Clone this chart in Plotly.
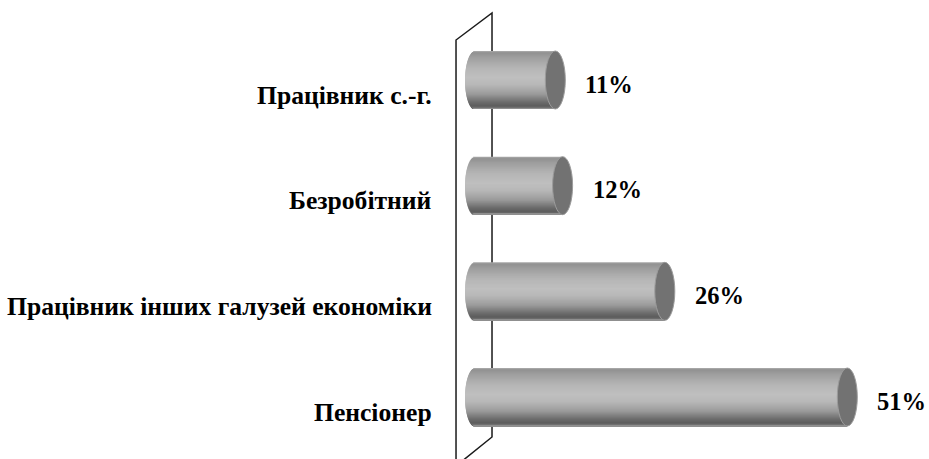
import numpy as np
import plotly.graph_objects as go

# Survey shares by occupation of household head
categories = ["Працівник с.-г.", "Безробітний", "Працівник інших галузей економіки", "Пенсіонер"]
values = [11, 12, 26, 51]
value_labels = ["11%", "12%", "26%", "51%"]

# --- geometry of the pseudo-3D cylinders (in axis units) ---
PX_PER_UNIT = 7.3            # horizontal pixels per percent
ROW_PX = 105.67              # vertical pixels per category row
ZERO_PX = 475                # pixel position of the value axis origin
FIRST_ROW_PX = 80            # pixel position of the first row centre
W, H = 929, 459

BAR_H = 58 / ROW_PX          # cylinder diameter in row units
CAP_A = 10 / PX_PER_UNIT     # half-width of the end ellipse in value units
N_STRIPES = 58

x_range = [-ZERO_PX / PX_PER_UNIT, (W - ZERO_PX) / PX_PER_UNIT]
y_range = [(H - FIRST_ROW_PX) / ROW_PX, -FIRST_ROW_PX / ROW_PX]

# vertical shading profile of the cylinder surface: (position top->bottom, grey level)
shade_stops = [(0.0, 175), (0.03, 145), (0.12, 160), (0.3, 182), (0.45, 191),
               (0.58, 184), (0.74, 155), (0.88, 108), (0.95, 92), (0.985, 120), (1.0, 175)]
sp = np.array([s[0] for s in shade_stops])
sg = np.array([s[1] for s in shade_stops])

rows = np.arange(len(categories))
fig = go.Figure()

dh = BAR_H / N_STRIPES
for k in range(N_STRIPES):
    f = (k + 0.5) / N_STRIPES              # 0 = top edge, 1 = bottom edge
    t = 2 * f - 1
    left = CAP_A * np.sqrt(max(0.0, 1 - t * t))
    g = int(round(np.interp(f, sp, sg)))
    color = f"rgb({g},{g},{g})"
    last = k == N_STRIPES - 1
    # each stripe reaches down over the next one so no seams show
    fig.add_trace(go.Bar(
        orientation="h",
        y=rows + BAR_H / 2 - dh / 2 if last else rows - BAR_H / 2 + k * dh + dh,
        x=[v + left for v in values],
        base=[-left] * len(values),
        width=dh if last else dh * 2,
        marker=dict(color=color, line=dict(width=0)),
        hoverinfo="skip",
        showlegend=False,
    ))

shapes = []
# back wall of the 3D plot area
xf, xb = -2.6, 2.33
y_bt, y_ft = (13 - FIRST_ROW_PX) / ROW_PX, (40 - FIRST_ROW_PX) / ROW_PX
y_bb, y_fb = (437 - FIRST_ROW_PX) / ROW_PX, (466 - FIRST_ROW_PX) / ROW_PX
wall = dict(type="path", xref="x", yref="y", layer="below",
            line=dict(color="#1a1a1a", width=1.5))
shapes.append({**wall, "path": f"M {xf},{y_fb} L {xf},{y_ft} L {xb},{y_bt} L {xb},{y_bb} L {xf},{y_fb}"})

# end caps of the cylinders
for r, v in zip(rows, values):
    shapes.append(dict(type="circle", xref="x", yref="y", layer="above",
                       x0=v - CAP_A, x1=v + CAP_A,
                       y0=r - BAR_H / 2, y1=r + BAR_H / 2,
                       fillcolor="#727272", line=dict(color="#9c9c9c", width=1)))

annotations = []
SERIF = "Liberation Serif"
for r, v, lab, cat in zip(rows, values, value_labels, categories):
    annotations.append(dict(x=v + CAP_A, y=r, xref="x", yref="y", text=f"<b>{lab}</b>",
                            showarrow=False, xanchor="left", yanchor="middle",
                            xshift=18, yshift=-4,
                            font=dict(family=SERIF, size=24.5, color="#000000")))
    annotations.append(dict(x=434 / W, y=r, xref="paper", yref="y", text=f"<b>{cat}</b>",
                            showarrow=False, xanchor="right", yanchor="middle",
                            yshift=-15,
                            font=dict(family=SERIF, size=25.6, color="#000000")))

fig.update_layout(
    width=W, height=H,
    margin=dict(l=0, r=0, t=0, b=0),
    paper_bgcolor="white", plot_bgcolor="white",
    barmode="overlay",
    font=dict(family=SERIF),
    xaxis=dict(range=x_range, visible=False, fixedrange=True),
    yaxis=dict(range=y_range, visible=False, fixedrange=True),
    shapes=shapes,
    annotations=annotations,
    showlegend=False,
)

fig.write_html("out.html")
